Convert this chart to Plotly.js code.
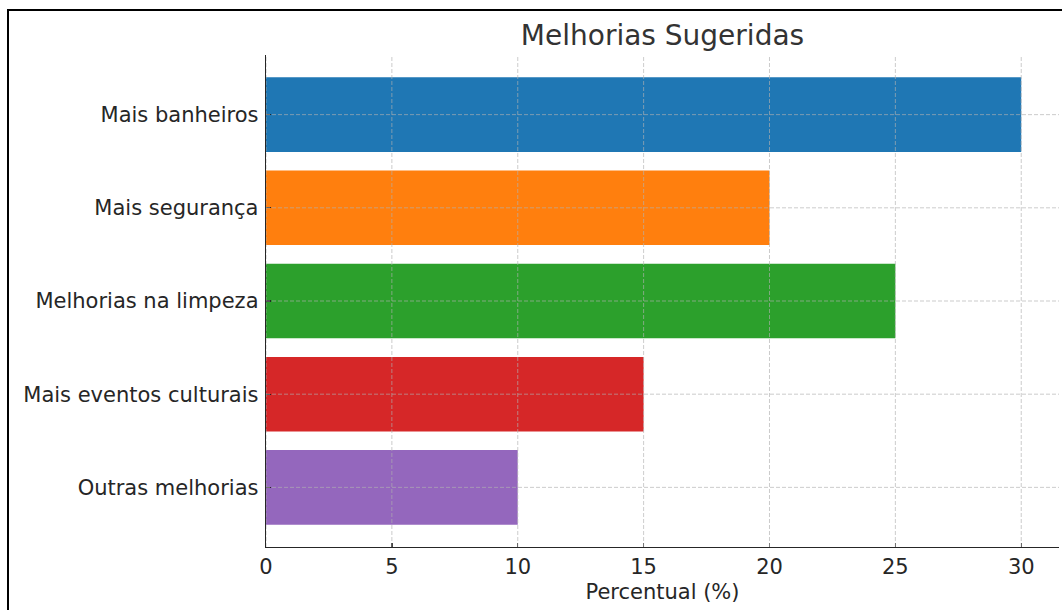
<!DOCTYPE html>
<html>
<head>
<meta charset="utf-8">
<script src="https://cdn.plot.ly/plotly-3.0.1.min.js"></script>
<style>
  html, body { margin: 0; padding: 0; background: #fff; }
  #wrap { position: relative; width: 1062px; height: 610px; overflow: hidden; }
  #chart { position: absolute; left: 0; top: 0; width: 1062px; height: 610px; }
  #frame { position: absolute; left: 7px; top: 9px; width: 1200px; height: 800px;
           border-left: 2px solid #000; border-top: 2px solid #000; pointer-events: none; }
</style>
</head>
<body>
<div id="wrap">
  <div id="chart"></div>
  <div id="frame"></div>
</div>
<script>
const categories = ["Mais banheiros", "Mais segurança", "Melhorias na limpeza", "Mais eventos culturais", "Outras melhorias"];
const percentages = [30, 20, 25, 15, 10];
const barColors = ["#1f77b4", "#ff7f0e", "#2ca02c", "#d62728", "#9467bd"];
const xTickVals = [0, 5, 10, 15, 20, 25, 30];
const titleText = "Melhorias Sugeridas";
const xTitleText = "Percentual (%)";

const font = "DejaVu Sans, sans-serif";
const gridStyle = { color: "rgba(176,176,176,0.65)", width: 1, dash: "4px,2px" };

const shapes = [];
xTickVals.forEach(v => {
  shapes.push({ type: "line", layer: "above", xref: "x", yref: "paper",
    x0: v, x1: v, y0: 0, y1: 1, line: gridStyle });
});
categories.forEach(c => {
  shapes.push({ type: "line", layer: "above", xref: "paper", yref: "y",
    x0: 0, x1: 1, y0: c, y1: c, line: gridStyle });
});

const trace = {
  type: "bar",
  orientation: "h",
  x: percentages,
  y: categories,
  marker: { color: barColors, line: { width: 0 } },
  hoverinfo: "x+y"
};

const layout = {
  width: 1062,
  height: 610,
  margin: { l: 266, r: 3, t: 55, b: 63 },
  paper_bgcolor: "#fff",
  plot_bgcolor: "#fff",
  bargap: 0.2,
  showlegend: false,
  font: { family: font, color: "#262626", size: 21 },
  title: {
    text: titleText,
    font: { family: font, size: 28, color: "#333333" },
    xref: "paper", x: 0.5, xanchor: "center",
    yref: "container", y: 1 - 35 / 610, yanchor: "middle"
  },
  xaxis: {
    range: [0, 31.5],
    tickvals: xTickVals,
    ticktext: xTickVals.map(String),
    showgrid: false,
    zeroline: false,
    showline: true,
    linecolor: "#262626",
    linewidth: 1.3,
    ticks: "inside",
    ticklen: 4,
    tickwidth: 1.3,
    tickcolor: "#262626",
    tickfont: { family: font, size: 21, color: "#262626" },
    title: { text: xTitleText, font: { family: font, size: 21, color: "#262626" }, standoff: 6 },
    layer: "above traces",
    fixedrange: true
  },
  yaxis: {
    type: "category",
    range: [4.64, -0.64],
    showgrid: false,
    zeroline: false,
    showline: true,
    linecolor: "#262626",
    linewidth: 1.3,
    ticks: "inside",
    ticklen: 5,
    tickwidth: 1.3,
    tickcolor: "#262626",
    ticklabelstandoff: 2,
    tickfont: { family: font, size: 21, color: "#262626" },
    layer: "above traces",
    fixedrange: true
  },
  shapes: shapes
};

Plotly.newPlot("chart", [trace], layout, { displayModeBar: false, staticPlot: true });
</script>
</body>
</html>
